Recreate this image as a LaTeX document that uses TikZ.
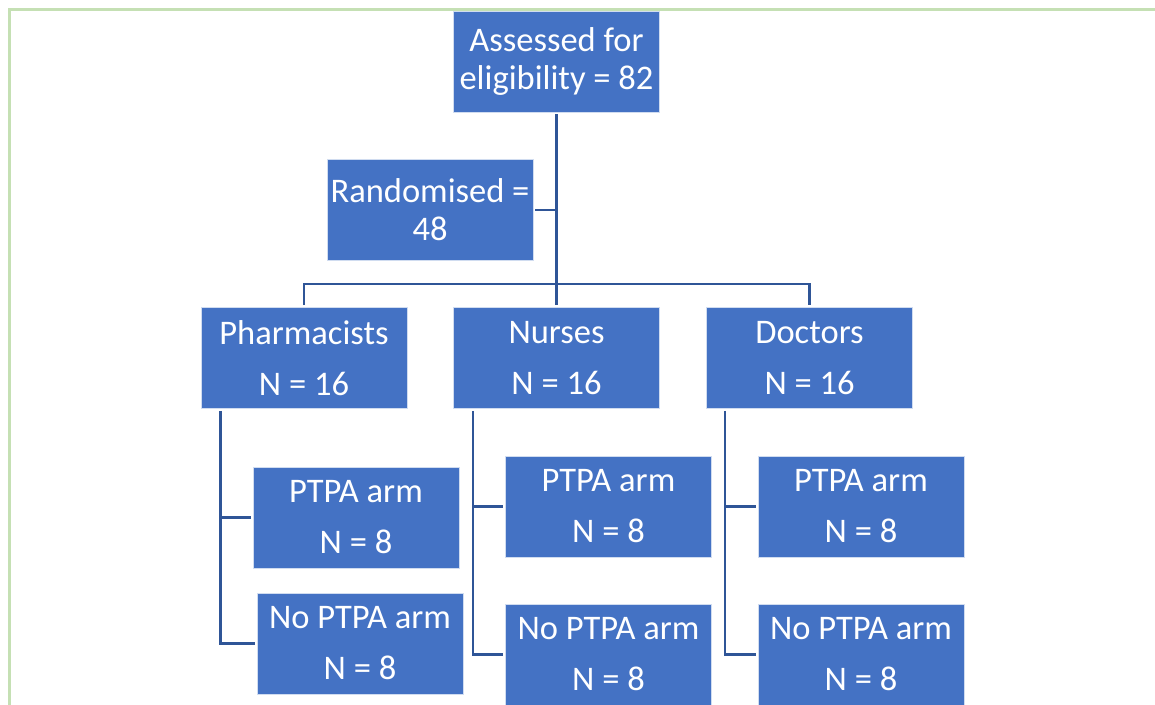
\documentclass[tikz,border=0pt]{standalone}
\usepackage{fontspec}
\setmainfont{Carlito}
\definecolor{boxblue}{HTML}{4472C4}
\definecolor{linkblue}{HTML}{2F5597}
\definecolor{framegreen}{HTML}{C5E0B4}
\begin{document}
\begin{tikzpicture}[x=1pt,y=-1pt,
  box/.style={rectangle, fill=boxblue, draw=white!75!boxblue, line width=0.8pt,
    minimum width=206pt, minimum height=101pt, inner sep=0pt,
    text=white, align=center, font=\fontsize{34.5}{38}\selectfont},
  link/.style={draw=linkblue, line width=2.6pt, shorten <=2pt, shorten >=2pt}]
  \useasboundingbox (0,0) rectangle (1155,704);
  \clip (0,0) rectangle (1155,704);
  % page frame
  \draw[framegreen, line width=3pt] (1160,9) -- (9,9) -- (9,710);

  % nodes
  \node[box] (assess) at (556.5,61.5) {Assessed for\\eligibility = 82};
  \node[box] (rand) at (430,210) {Randomised =\\48};

  \node[box] (pharm) at (304,358) {Pharmacists\\[13pt]N = 16};
  \node[box] (nurses) at (556.5,358) {Nurses\\[13pt]N = 16};
  \node[box] (doctors) at (809.5,358) {Doctors\\[13pt]N = 16};

  \node[box] (pYes) at (356,517.5) {PTPA arm\\[13pt]N = 8};
  \node[box] (pNo) at (360,643.5) {No PTPA arm\\[13pt]N = 8};
  \node[box] (nYes) at (608.5,506.5) {PTPA arm\\[13pt]N = 8};
  \node[box] (nNo) at (608.5,654.5) {No PTPA arm\\[13pt]N = 8};
  \node[box] (dYes) at (861,506.5) {PTPA arm\\[13pt]N = 8};
  \node[box] (dNo) at (861,654.5) {No PTPA arm\\[13pt]N = 8};

  % trunk and split into the three professions
  \coordinate (bar) at (557,284);
  \draw[link] (assess.south) -- (nurses.north);
  \draw[link] (rand.east) -- (rand.east -| assess.south);
  \draw[link] (pharm.north) |- (bar) -| (doctors.north);

  % each profession split into the two arms
  \coordinate (pStem) at ([xshift=20pt]pharm.south west);
  \coordinate (nStem) at ([xshift=20pt]nurses.south west);
  \coordinate (dStem) at ([xshift=19pt]doctors.south west);
  \draw[link] (pStem) |- (pNo.west);
  \draw[link, shorten <=0pt] (pStem |- pYes.west) -- (pYes.west);
  \draw[link] (nStem) |- (nNo.west);
  \draw[link, shorten <=0pt] (nStem |- nYes.west) -- (nYes.west);
  \draw[link] (dStem) |- (dNo.west);
  \draw[link, shorten <=0pt] (dStem |- dYes.west) -- (dYes.west);
\end{tikzpicture}
\end{document}
